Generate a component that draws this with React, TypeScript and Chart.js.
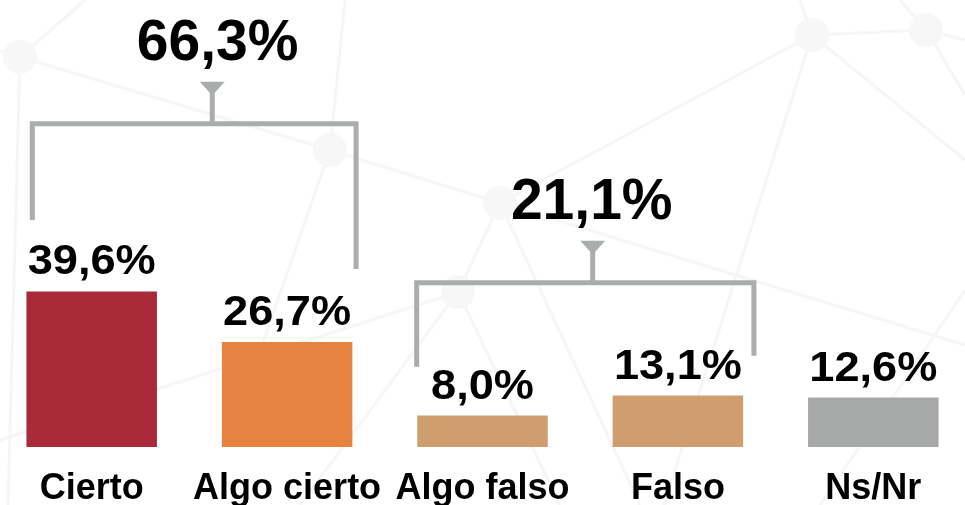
import { useEffect, useRef } from "react";
import { Chart, registerables } from "chart.js";

Chart.register(...registerables);

const categories = ["Cierto", "Algo cierto", "Algo falso", "Falso", "Ns/Nr"];
const values = [39.6, 26.7, 8.0, 13.1, 12.6];
const valueLabels = ["39,6%", "26,7%", "8,0%", "13,1%", "12,6%"];
const barColors = ["#A92B3A", "#E6843F", "#D09D6E", "#D09D6E", "#A6A9A8"];

const groupTotals = ["66,3%", "21,1%"];
const groupLevel = [82.3, 41.8];
const groupLeftIdx = [-0.304, 1.663];
const groupRightIdx = [1.353, 3.389];
const groupStemIdx = [0.617, 2.564];
const groupTextIdx = [0.644, 2.559];
const groupLeftEnd = [57.8, 20.4];
const groupRightEnd = [45.3, 23.2];

const FONT = '"Liberation Sans", Arial, Helvetica, sans-serif';
const OFFSET_X = 20;

const bgNodes: [number, number][] = [
  [20, 57], [330, 150], [500, 203], [458, 292], [812, 35], [926, 30],
];
const bgEdges: [number, number, number, number][] = [
  [0, 51, 330, 150], [330, 150, 500, 203], [500, 203, 965, 345],
  [20, 57, 85, 0], [20, 57, 8, 505], [330, 150, 345, 0], [330, 150, 250, 380],
  [500, 203, 458, 292], [458, 292, 0, 440], [458, 292, 560, 505],
  [500, 203, 640, 505], [812, 35, 500, 203], [812, 35, 664, 505],
  [812, 35, 965, 160], [812, 35, 926, 30], [926, 30, 965, 40],
  [926, 30, 965, 95], [926, 30, 900, 0], [812, 35, 800, 0],
  [458, 292, 300, 505], [965, 290, 820, 505],
];

const decorPlugin = {
  id: "decor",
  beforeDraw(chart: any) {
    const ctx = chart.ctx;
    ctx.save();
    ctx.fillStyle = "#ffffff";
    ctx.fillRect(0, 0, chart.width, chart.height);
    ctx.translate(OFFSET_X, 0);
    ctx.strokeStyle = "#f6f6f6";
    ctx.lineWidth = 3;
    bgEdges.forEach(([x1, y1, x2, y2]) => {
      ctx.beginPath();
      ctx.moveTo(x1, y1);
      ctx.lineTo(x2, y2);
      ctx.stroke();
    });
    ctx.fillStyle = "#f7f7f7";
    bgNodes.forEach(([x, y]) => {
      ctx.beginPath();
      ctx.arc(x, y, 17, 0, Math.PI * 2);
      ctx.fill();
    });
    ctx.restore();
  },
  afterDatasetsDraw(chart: any) {
    const ctx = chart.ctx;
    const xs = chart.scales.x;
    const ys = chart.scales.y;
    const x0 = xs.getPixelForValue(0);
    const cw = xs.getPixelForValue(1) - x0;
    const px = (i: number) => x0 + i * cw;
    const meta = chart.getDatasetMeta(0);

    ctx.save();
    ctx.fillStyle = "#000000";
    ctx.textAlign = "center";
    ctx.textBaseline = "alphabetic";
    ctx.font = `bold 43px ${FONT}`;
    meta.data.forEach((bar: any, i: number) => {
      ctx.save();
      ctx.translate(bar.x, bar.y - 17);
      ctx.scale(1.05, 1);
      ctx.fillText(valueLabels[i], 0, 0);
      ctx.restore();
    });

    ctx.strokeStyle = "#A9ADAC";
    ctx.fillStyle = "#A9ADAC";
    ctx.lineWidth = 5;
    ctx.lineJoin = "miter";
    ctx.lineCap = "butt";
    groupTotals.forEach((label, g) => {
      const yH = ys.getPixelForValue(groupLevel[g]);
      const xl = px(groupLeftIdx[g]);
      const xr = px(groupRightIdx[g]);
      const xsm = px(groupStemIdx[g]);
      ctx.beginPath();
      ctx.moveTo(xl, ys.getPixelForValue(groupLeftEnd[g]));
      ctx.lineTo(xl, yH);
      ctx.lineTo(xr, yH);
      ctx.lineTo(xr, ys.getPixelForValue(groupRightEnd[g]));
      ctx.stroke();
      const triTop = yH - 42;
      ctx.beginPath();
      ctx.moveTo(xsm, triTop + 6);
      ctx.lineTo(xsm, yH);
      ctx.stroke();
      ctx.beginPath();
      ctx.moveTo(xsm - 12.5, triTop);
      ctx.lineTo(xsm + 12.5, triTop);
      ctx.lineTo(xsm + 2.5, triTop + 11);
      ctx.lineTo(xsm - 2.5, triTop + 11);
      ctx.closePath();
      ctx.fill();
      ctx.save();
      ctx.fillStyle = "#000000";
      ctx.font = `bold 57px ${FONT}`;
      ctx.fillText(label, px(groupTextIdx[g]), triTop - 22);
      ctx.restore();
    });
    ctx.restore();
  },
};

export default function App() {
  const ref = useRef<HTMLCanvasElement | null>(null);
  useEffect(() => {
    if (!ref.current) return;
    const chart = new Chart(ref.current, {
      type: "bar",
      data: {
        labels: categories,
        datasets: [
          {
            data: values,
            backgroundColor: barColors,
            borderWidth: 0,
            categoryPercentage: 1,
            barPercentage: 0.668,
          },
        ],
      },
      options: {
        animation: false,
        responsive: false,
        devicePixelRatio: 1,
        layout: { padding: { left: 14, right: 9, top: 0, bottom: 0 } },
        plugins: { legend: { display: false }, tooltip: { enabled: false } },
        scales: {
          x: {
            grid: { display: false },
            border: { display: false },
            afterFit: (s: any) => {
              s.height = 58;
            },
            ticks: {
              color: "#000000",
              font: { family: FONT, size: 36, weight: "bold" },
              padding: 12,
              maxRotation: 0,
              autoSkip: false,
            },
          },
          y: {
            display: false,
            min: 0,
            max: 113.8,
          },
        },
      },
      plugins: [decorPlugin],
    });
    return () => chart.destroy();
  }, []);
  return (
    <div
      style={{
        position: "fixed",
        left: 0,
        top: 0,
        width: 965,
        height: 505,
        overflow: "hidden",
        background: "#ffffff",
      }}
    >
      <canvas
        ref={ref}
        width={1000}
        height={505}
        style={{ position: "absolute", left: -OFFSET_X, top: 0, width: 1000, height: 505 }}
      />
    </div>
  );
}
